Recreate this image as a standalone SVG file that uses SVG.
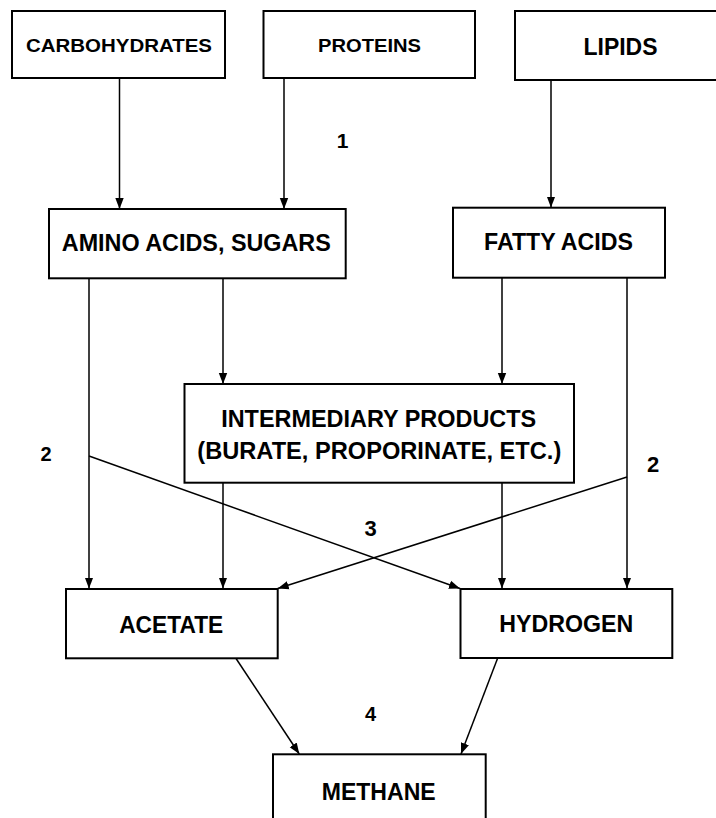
<svg xmlns="http://www.w3.org/2000/svg" width="716" height="818" viewBox="0 0 716 818">
<style>
.box{fill:#fff;stroke:#000;stroke-width:2}
.lbl{font-family:"Liberation Sans",Arial,sans-serif;font-weight:bold;fill:#000;text-anchor:middle}
.conn{stroke:#000;stroke-width:1.5;fill:none}
</style>
<defs>
<marker id="ah" markerUnits="userSpaceOnUse" markerWidth="12" markerHeight="10" viewBox="0 0 12 10" refX="11" refY="5" orient="auto">
<path d="M0,0.8 L11,5 L0,9.2 Z" fill="#000"/>
</marker>
</defs>
<rect width="716" height="818" fill="#fff"/>
<g id="connectors">
<line class="conn" x1="119.5" y1="78" x2="119.5" y2="209" marker-end="url(#ah)"/>
<line class="conn" x1="284" y1="78" x2="284" y2="209" marker-end="url(#ah)"/>
<line class="conn" x1="551" y1="80" x2="551" y2="207.5" marker-end="url(#ah)"/>
<line class="conn" x1="223" y1="278" x2="223" y2="384" marker-end="url(#ah)"/>
<line class="conn" x1="502" y1="278" x2="502" y2="384" marker-end="url(#ah)"/>
<line class="conn" x1="89" y1="278" x2="89" y2="588.5" marker-end="url(#ah)"/>
<line class="conn" x1="223" y1="483" x2="223" y2="588.5" marker-end="url(#ah)"/>
<line class="conn" x1="502" y1="483" x2="502" y2="588.5" marker-end="url(#ah)"/>
<line class="conn" x1="627" y1="278" x2="627" y2="588.5" marker-end="url(#ah)"/>
<line class="conn" x1="89" y1="456" x2="460" y2="588.5" marker-end="url(#ah)"/>
<line class="conn" x1="627" y1="477" x2="277.7" y2="588.5" marker-end="url(#ah)"/>
<line class="conn" x1="235.7" y1="658" x2="299.3" y2="754" marker-end="url(#ah)"/>
<line class="conn" x1="497.7" y1="658" x2="461" y2="754" marker-end="url(#ah)"/>
</g>
<g id="carbohydrates">
<rect class="box" x="12" y="11" width="213" height="67"/>
<text class="lbl" x="119" y="52" font-size="18" textLength="186" lengthAdjust="spacingAndGlyphs">CARBOHYDRATES</text>
</g>
<g id="proteins">
<rect class="box" x="263.5" y="11" width="211.5" height="67"/>
<text class="lbl" x="369.5" y="52" font-size="18" textLength="103" lengthAdjust="spacingAndGlyphs">PROTEINS</text>
</g>
<g id="lipids">
<rect class="box" x="515" y="11" width="220" height="69"/>
<text class="lbl" x="620.5" y="54.5" font-size="23" textLength="74" lengthAdjust="spacingAndGlyphs">LIPIDS</text>
</g>
<g id="amino-acids-sugars">
<rect class="box" x="49" y="209" width="296.7" height="69.3"/>
<text class="lbl" x="196.3" y="251" font-size="23" textLength="269" lengthAdjust="spacingAndGlyphs">AMINO ACIDS, SUGARS</text>
</g>
<g id="fatty-acids">
<rect class="box" x="453" y="207.7" width="212" height="70"/>
<text class="lbl" x="558.5" y="250" font-size="23" textLength="149" lengthAdjust="spacingAndGlyphs">FATTY ACIDS</text>
</g>
<g id="intermediary-products">
<rect class="box" x="184.5" y="384" width="389.5" height="98.7"/>
<text class="lbl" x="378.7" y="427" font-size="23" textLength="315" lengthAdjust="spacingAndGlyphs">INTERMEDIARY PRODUCTS</text>
<text class="lbl" x="379.3" y="458.5" font-size="23" textLength="364" lengthAdjust="spacingAndGlyphs">(BURATE, PROPORINATE, ETC.)</text>
</g>
<g id="acetate">
<rect class="box" x="66" y="589" width="211.7" height="69.3"/>
<text class="lbl" x="171.2" y="632.5" font-size="23" textLength="104" lengthAdjust="spacingAndGlyphs">ACETATE</text>
</g>
<g id="hydrogen">
<rect class="box" x="460.5" y="589" width="211.8" height="69"/>
<text class="lbl" x="566.3" y="632" font-size="23" textLength="134" lengthAdjust="spacingAndGlyphs">HYDROGEN</text>
</g>
<g id="methane">
<rect class="box" x="273" y="754.3" width="212.7" height="80"/>
<text class="lbl" x="378.7" y="800" font-size="23" textLength="114" lengthAdjust="spacingAndGlyphs">METHANE</text>
</g>
<g id="step-labels">
<text class="lbl" x="342.5" y="148" font-size="21">1</text>
<text class="lbl" x="46" y="461" font-size="20">2</text>
<text class="lbl" x="653" y="472" font-size="22">2</text>
<text class="lbl" x="370.5" y="536" font-size="22">3</text>
<text class="lbl" x="370.5" y="720.5" font-size="20">4</text>
</g>
</svg>
